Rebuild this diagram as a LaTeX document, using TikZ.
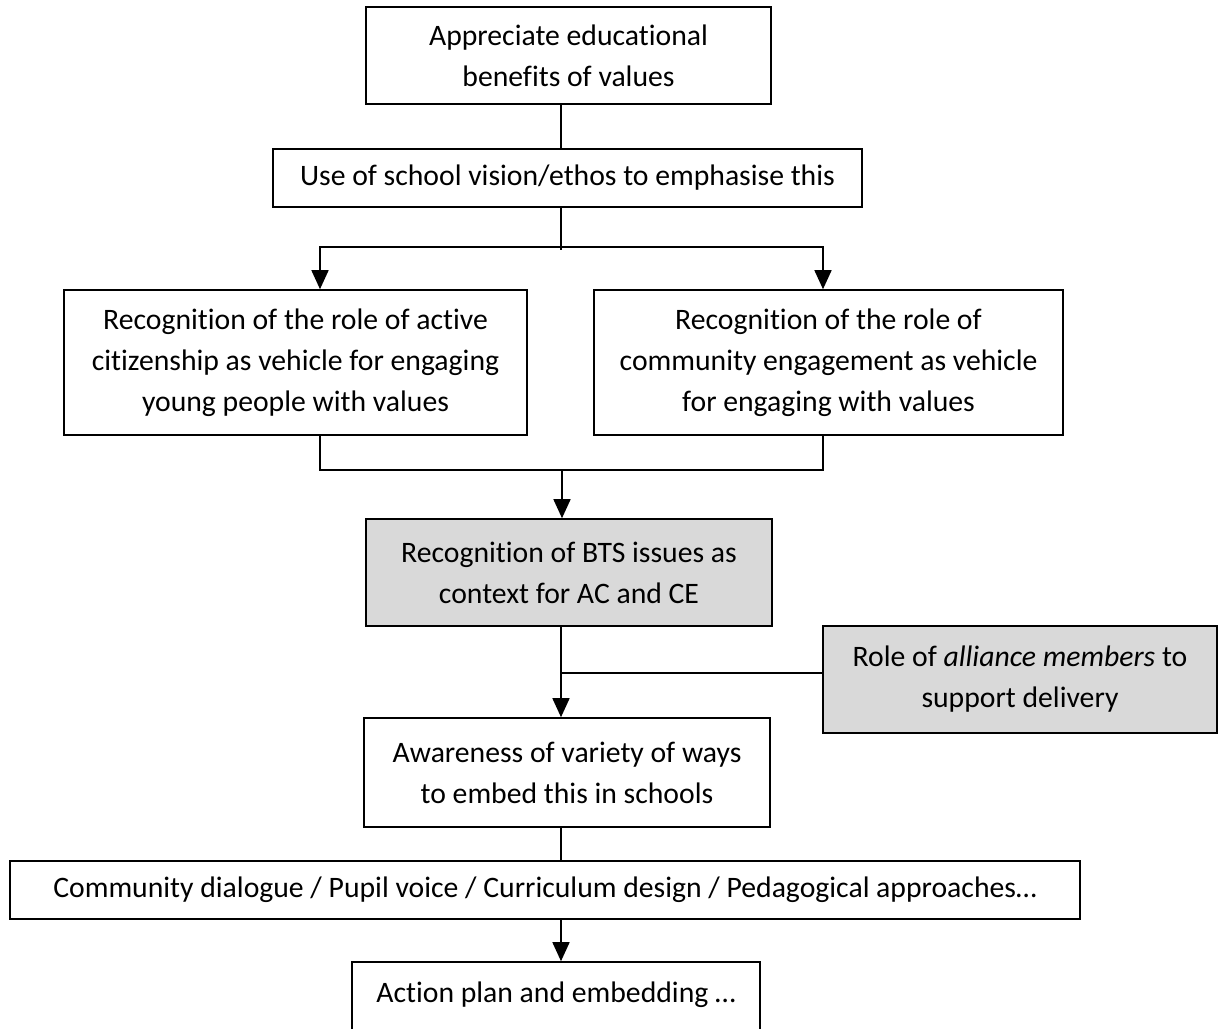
\documentclass[tikz,border=0pt]{standalone}
\usepackage{fontspec}
\setmainfont{Carlito}[Ligatures=NoCommon]
\usetikzlibrary{arrows.meta}
\definecolor{boxgray}{HTML}{D9D9D9}
\begin{document}
\begin{tikzpicture}[x=1pt,y=-1pt,
  box/.style={draw, line width=1.6pt, align=center, inner sep=0pt,
    font=\fontsize{29.7}{41}\selectfont},
  shaded/.style={box, fill=boxgray},
  link/.style={line width=1.6pt},
  arr/.style={link, -{Triangle[width=17pt,length=19pt]}}]
\path[use as bounding box] (0,0) rectangle (1218,1028);
\clip (0,0) rectangle (1218,1028);
\fill[white] (0,0) rectangle (1218,1028);

% guide columns for the connectors
\coordinate (spine) at (561,0);
\coordinate (lx) at (320,0);
\coordinate (rx) at (823,0);

\node[box, minimum width=405pt, minimum height=97pt] (b1) at (568.5,55.5)
  {Appreciate educational\\benefits of values};
\node[box, minimum width=589pt, minimum height=58pt] (b2) at (567.5,178)
  {Use of school vision/ethos to emphasise this};
\node[box, minimum width=463pt, minimum height=145pt] (b3) at (295.5,362.5)
  {Recognition of the role of active\\citizenship as vehicle for engaging\\young people with values};
\node[box, minimum width=469pt, minimum height=145pt] (b4) at (828.5,362.5)
  {Recognition of the role of\\community engagement as vehicle\\for engaging with values};
\node[shaded, minimum width=406pt, minimum height=107pt] (b5) at (569,572.5)
  {Recognition of BTS issues as\\context for AC and CE};
\node[shaded, minimum width=394pt, minimum height=107pt] (side) at (1020,679.5)
  {Role of \textit{alliance members} to\\support delivery};
\node[box, minimum width=406pt, minimum height=109pt] (b6) at (567,772.5)
  {Awareness of variety of ways\\to embed this in schools};
\node[box, minimum width=1070pt, minimum height=58pt] (b7) at (545,890)
  {Community dialogue / Pupil voice / Curriculum design / Pedagogical approaches…};
\node[box, minimum width=408pt, minimum height=107pt] (b8) at (556,1015.5)
  {Action plan and embedding …\\[6pt]\mbox{}};

% connectors
\draw[link] (b1.south -| spine) -- (b2.north -| spine);
\coordinate (fork) at (561,247);
\draw[link] (b2.south -| spine) -- ([yshift=-3pt]fork);
\draw[arr] (fork) -| (b3.north -| lx);
\draw[arr] (fork) -| (b4.north -| rx);
\coordinate (join) at (562,470);
\draw[link] (b3.south -| lx) |- (join) -| (b4.south -| rx);
\draw[arr] (join) -- (b5.north -| join);
\draw[arr] (b5.south -| spine) -- (b6.north -| spine);
\draw[link] ([yshift=6.5pt]side.west) -- ([yshift=6.5pt]side.west -| spine);
\draw[link] (b6.south -| spine) -- (b7.north -| spine);
\draw[arr] (b7.south -| spine) -- (b8.north -| spine);
\end{tikzpicture}
\end{document}
